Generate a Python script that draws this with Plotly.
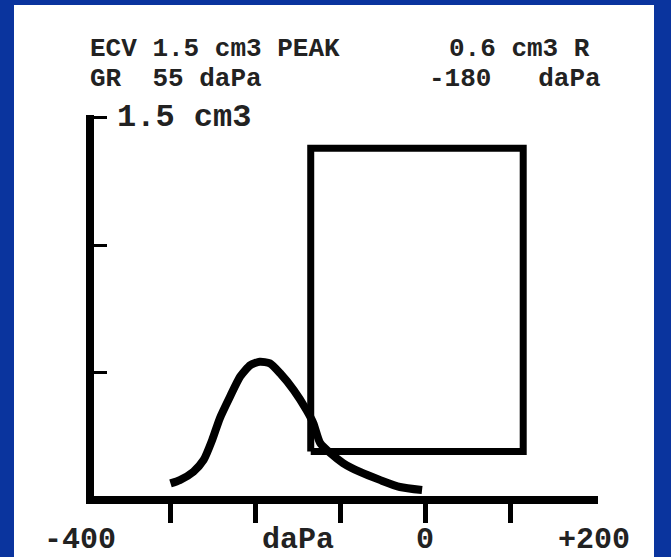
import plotly.graph_objects as go

# Tympanogram curve (daPa, cm3)
pressure = [-300, -289, -273, -261, -251, -242, -230, -218, -206, -195, -183, -171, -155, -140,
            -132, -124, -112, -97, -77, -53, -30, -4]
compliance = [0.065, 0.078, 0.111, 0.157, 0.235, 0.320, 0.405, 0.484, 0.529, 0.542, 0.536, 0.497,
              0.431, 0.353, 0.302, 0.224, 0.184, 0.145, 0.110, 0.078, 0.051, 0.039]

# Normal-range box
box_pressure = [-135, 115]
box_compliance = [0.19, 1.38]

x_ticks = [-300, -200, -100, 0, 100]
y_ticks = [0.5, 1.0, 1.5]
x_labels = ["daPa", "0", "+200"]
x_label_pos = [-150, 0, 198]
x_min_label = "-400"

header_left = ["ECV 1.5 cm3 PEAK", "GR  55 daPa"]
header_right = ["0.6 cm3 R", "-180   daPa"]
y_top_label = "1.5 cm3"

W, H = 671, 557
L, R, T, B = 94, 598, 115, 496
FONT = "Liberation Mono"
BLUE = "#0a349e"

def px_to_paper_x(px):
    return (px - L) / (R - L)

def px_to_paper_y(py):
    return (B - py) / (B - T)

fig = go.Figure()

bx = [box_pressure[0], box_pressure[1], box_pressure[1], box_pressure[0], box_pressure[0]]
by = [box_compliance[0], box_compliance[0], box_compliance[1], box_compliance[1], box_compliance[0]]
fig.add_trace(go.Scatter(x=bx, y=by, mode="lines",
                         line=dict(color="black", width=7), hoverinfo="skip"))
fig.add_trace(go.Scatter(x=pressure, y=compliance, mode="lines",
                         line=dict(color="black", width=8, shape="spline", smoothing=0.6),
                         hoverinfo="skip"))

shapes = [dict(type="rect", xref="paper", yref="paper",
               x0=px_to_paper_x(14), x1=px_to_paper_x(654),
               y0=px_to_paper_y(560), y1=px_to_paper_y(5),
               fillcolor="white", line=dict(width=0), layer="below")]

ann = []
for i, (tl, tr) in enumerate(zip(header_left, header_right)):
    yc = [49, 79][i]
    ann.append(dict(text="<b>%s</b>" % tl, xref="paper", yref="paper",
                    x=px_to_paper_x(88), y=px_to_paper_y(yc), xanchor="left", yanchor="middle",
                    showarrow=False, font=dict(family=FONT, size=26, color="#222")))
    ann.append(dict(text="<b>%s</b>" % tr, xref="paper", yref="paper",
                    x=px_to_paper_x([592, 603][i]), y=px_to_paper_y(yc), xanchor="right", yanchor="middle",
                    showarrow=False, font=dict(family=FONT, size=26, color="#222")))

ann.append(dict(text="<b>%s</b>" % y_top_label, xref="paper", yref="y",
                x=px_to_paper_x(115), y=1.5, xanchor="left", yanchor="middle",
                showarrow=False, font=dict(family=FONT, size=32, color="#222")))

for lab, xp in zip(x_labels, x_label_pos):
    ann.append(dict(text="<b>%s</b>" % lab, xref="x", yref="paper",
                    x=xp, y=px_to_paper_y(540), xanchor="center", yanchor="middle",
                    showarrow=False, font=dict(family=FONT, size=30, color="#222")))
ann.append(dict(text="<b>%s</b>" % x_min_label, xref="paper", yref="paper",
                x=px_to_paper_x(80), y=px_to_paper_y(540), xanchor="center", yanchor="middle",
                showarrow=False, font=dict(family=FONT, size=30, color="#222")))

fig.update_layout(
    width=W, height=H,
    margin=dict(l=L, r=W - R, t=T, b=H - B, pad=0),
    paper_bgcolor=BLUE, plot_bgcolor="white",
    showlegend=False,
    shapes=shapes, annotations=ann,
    xaxis=dict(range=[-390, 203], showgrid=False, zeroline=False,
               showline=True, linecolor="black", linewidth=8,
               tickmode="array", tickvals=x_ticks, ticks="outside",
               ticklen=19, tickwidth=5, tickcolor="black", showticklabels=False),
    yaxis=dict(range=[0.0157, 1.51], showgrid=False, zeroline=False,
               showline=True, linecolor="black", linewidth=8,
               tickmode="array", tickvals=y_ticks, ticks="inside",
               ticklen=13, tickwidth=3, tickcolor="black", showticklabels=False),
)

fig.write_html("out.html", config={"displayModeBar": False, "staticPlot": True},
               post_script="document.body.style.margin='0';document.body.style.padding='0';"
                           "document.body.style.overflow='hidden';document.body.style.background='%s';" % BLUE)
